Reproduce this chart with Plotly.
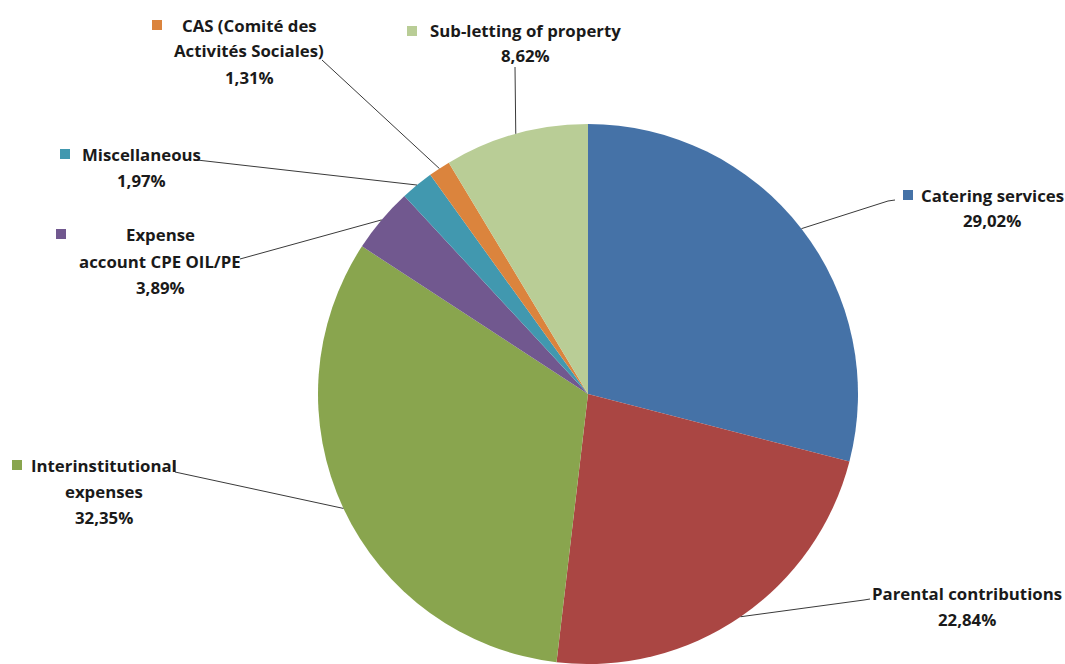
import math
import plotly.graph_objects as go

# ---- data ----
categories = ["Catering services", "Parental contributions", "Interinstitutional expenses",
              "Expense account CPE OIL/PE", "Miscellaneous",
              "CAS (Comité des Activités Sociales)", "Sub-letting of property"]
values = [29.02, 22.84, 32.35, 3.89, 1.97, 1.31, 8.62]
colors = ["#4572A7", "#AA4643", "#89A54E", "#71588F", "#4198AF", "#DB843D", "#B9CD96"]
pct_labels = ["29,02%", "22,84%", "32,35%", "3,89%", "1,97%", "1,31%", "8,62%"]
label_lines = [["Catering services"], ["Parental contributions"], ["Interinstitutional", "expenses"],
               ["Expense", "account CPE OIL/PE"], ["Miscellaneous"],
               ["CAS (Comité des", "Activités Sociales)"], ["Sub-letting of property"]]

# ---- layout constants (pixels) ----
W, H = 1065, 664
CX, CY, R = 588, 394, 270
label_pos = [
    dict(cx=992, y0=195, key=(908, 195), lead=[(895, 200), (888, 201)]),
    dict(cx=967, y0=593, key=None, lead=[(870, 599), (864, 600)]),
    dict(cx=104, y0=465, key=(17, 465), lead=[(175, 460), (175, 472)]),
    dict(cx=160, y0=235, key=(61, 234), lead=[(240, 259)]),
    dict(cx=141, y0=154, key=(65, 154), lead=[(197, 160)]),
    dict(cx=249, y0=25, key=(157, 25), lead=[(322, 60)]),
    dict(cx=525, y0=30, key=(412, 31), lead=[(515, 67)]),
]
LINE_H = 26
FONT = "'Open Sans', sans-serif"
FSIZE = 16.8
TXT = "#1a1a1a"


def px(x):
    return x / W


def py(y):
    return 1 - y / H


fig = go.Figure(go.Pie(
    labels=categories, values=values, sort=False, direction="clockwise", rotation=0,
    marker=dict(colors=colors, line=dict(width=0)), textinfo="none", hoverinfo="label+percent",
    domain=dict(x=[px(CX - R), px(CX + R)], y=[max(0, py(CY + R)), py(CY - R)]),
    showlegend=False,
))

annotations = []
shapes = []
total = sum(values)
cum = 0.0
for i, v in enumerate(values):
    mid = (cum + v / 2) / total * 2 * math.pi
    cum += v
    ex = CX + R * math.sin(mid)
    ey = CY - R * math.cos(mid)
    lp = label_pos[i]
    pts = lp["lead"] + [(ex, ey)]
    path = "M {} {}".format(px(pts[0][0]), py(pts[0][1]))
    for (x, y) in pts[1:]:
        path += " L {} {}".format(px(x), py(y))
    shapes.append(dict(type="path", path=path, xref="paper", yref="paper",
                       line=dict(color="#3a3a3a", width=1)))
    lines = label_lines[i] + [pct_labels[i]]
    for k, t in enumerate(lines):
        annotations.append(dict(x=px(lp["cx"]), y=py(lp["y0"] + k * LINE_H), xref="paper", yref="paper",
                                text="<b>%s</b>" % t, showarrow=False, xanchor="center", yanchor="middle",
                                font=dict(family=FONT, size=FSIZE, color=TXT)))
    if lp["key"]:
        kx, ky = lp["key"]
        shapes.append(dict(type="rect", xref="paper", yref="paper",
                           x0=px(kx - 5), x1=px(kx + 5), y0=py(ky + 5), y1=py(ky - 5),
                           fillcolor=colors[i], line=dict(width=0)))

fig.update_layout(width=W, height=H, margin=dict(l=0, r=0, t=0, b=0),
                  paper_bgcolor="white", plot_bgcolor="white",
                  annotations=annotations, shapes=shapes)
fig.write_html("out.html")
